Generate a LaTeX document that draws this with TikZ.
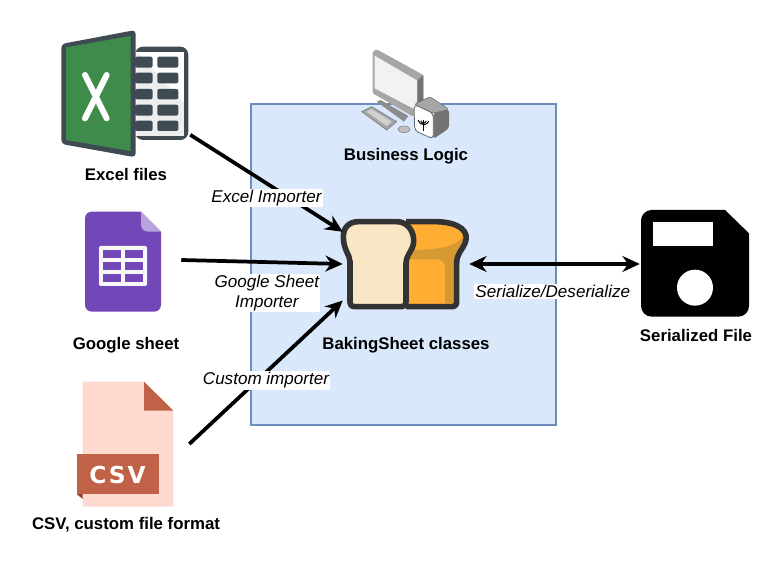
\documentclass[tikz,border=0pt]{standalone}
\usepackage{fontspec}
\setmainfont{Liberation Sans}
\newfontfamily\csvfont[LetterSpace=8]{DejaVu Sans}
\usetikzlibrary{arrows.meta}

\definecolor{boxfill}{HTML}{DAE8FC}
\definecolor{boxline}{HTML}{6C8EBF}
\definecolor{xlgreen}{HTML}{3F8B4B}
\definecolor{xldark}{HTML}{3F4B52}
\definecolor{sheetpurple}{HTML}{7248B9}
\definecolor{sheetfold}{HTML}{B9A3DD}
\definecolor{csvpage}{HTML}{FFD8CF}
\definecolor{csvred}{HTML}{BF6248}
\definecolor{csvshade}{HTML}{8F3F2B}
\definecolor{breadline}{HTML}{333333}
\definecolor{breadcream}{HTML}{F9E6C4}
\definecolor{breadorange}{HTML}{FFAD33}
\definecolor{breadshade}{HTML}{D69A33}

\tikzset{
  iconlabel/.style={font=\fontsize{12.6}{15}\selectfont\bfseries},
  edgelabel/.style={font=\fontsize{12.8}{15}\selectfont\itshape, fill=white,
    inner sep=1pt, align=center, text=black},
  iconspot/.style={inner sep=0pt, minimum width=#1},
  flow/.style={line width=2.8pt, -{Stealth[length=13pt,width=12pt]}},
  twoflow/.style={line width=2.8pt, {Stealth[length=13pt,width=12pt]}-{Stealth[length=13pt,width=12pt]}}
}

\begin{document}
\begin{tikzpicture}[x=0.75pt,y=-0.75pt]
  \useasboundingbox (0,0) rectangle (782,566);

  % business logic box
  \node[draw=boxline, fill=boxfill, line width=1.5pt, minimum width=228.75pt,
    minimum height=240.75pt, inner sep=0pt] (logicbox) at (403.5,264.5) {};

  % excel icon
  \begin{scope}[shift={(40,20)},scale=1/3]
    \fill[xldark, rounded corners=6pt] (285,80) rectangle (445,360);
    \fill[white] (285,95) rectangle (432,348);
    \fill[black!7] (290,95) -- (432,250) -- (432,348) -- (290,348) -- cycle;
    \foreach \rowtop/\rowbot in {110/143,158/190,207/238,254/287,302/333}{
      \fill[xldark, rounded corners=1.5pt] (285,\rowtop) rectangle (338,\rowbot);
      \fill[xldark, rounded corners=1.5pt] (352,\rowtop) rectangle (415,\rowbot);
    }
    \fill[xldark, rounded corners=3pt] (64,72) -- (287,30) -- (287,412) -- (64,372) -- cycle;
    \fill[xlgreen] (78,82) -- (272,48) -- (272,393) -- (78,360) -- cycle;
    \draw[white, line width=4.5pt, line cap=round] (135,165) -- (200,295) (200,165) -- (135,295);
  \end{scope}

  % google sheet icon
  \begin{scope}[shift={(70,200)},scale=1/3]
    \fill[sheetpurple, rounded corners=5pt] (45,35) -- (150,35) [sharp corners] -- (213,35) -- (273,95)
      [rounded corners=5pt] -- (273,335) -- (45,335) -- cycle;
    \fill[sheetfold] (213,35) -- (273,95) -- (235,95) .. controls (222,95) and (213,86) .. (213,73) -- cycle;
    \fill[white!97!black, rounded corners=1pt] (87,138) rectangle (231,258);
    \foreach \rowtop/\rowbot in {150/175,186/210,222/246}{
      \fill[sheetpurple] (98,\rowtop) rectangle (153,\rowbot);
      \fill[sheetpurple] (165,\rowtop) rectangle (219,\rowbot);
    }
  \end{scope}

  % csv icon
  \begin{scope}[shift={(70,370)},scale=1/3]
    \fill[csvpage] (38,35) -- (222,35) -- (310,122) -- (310,410) -- (38,410) -- cycle;
    \fill[csvred] (222,35) -- (310,122) -- (222,122) -- cycle;
    \fill[csvshade] (20,372) -- (38,372) -- (38,387) -- cycle;
    \fill[csvred] (20,253) rectangle (267,372);
  \end{scope}
  \node[inner sep=0pt, text=white, font=\csvfont\fontsize{17.5}{17.5}\selectfont\bfseries] (csvtext) at (117.5,475) {CSV};

  % computer icon
  \begin{scope}[shift={(330,40)},scale=1/3]
    \fill[black!45] (140,185) -- (152,180) -- (235,228) -- (222,245) -- cycle;
    \fill[black!35, draw=black!55, line width=.4pt] (95,215) -- (125,200) -- (200,245) -- (170,270) -- cycle;
    \fill[black!18] (110,215) -- (125,207) -- (185,245) -- (170,258) -- cycle;
    \fill[black!25, draw=black!50, line width=.4pt] (222,268) ellipse (18 and 10);
    \fill[black!35, rounded corners=1pt] (128,35) -- (140,28) -- (280,105) -- (280,195) -- (250,230) -- (128,160) -- cycle;
    \fill[white!95!black] (134,47) -- (262,122) -- (262,212) -- (134,145) -- cycle;
    \fill[black!55] (262,122) -- (280,105) -- (280,195) -- (262,212) -- cycle;
    \fill[black!35, draw=black!60, line width=.4pt, rounded corners=2pt] (252,193) -- (300,170) -- (357,208) -- (310,220) -- cycle;
    \fill[black!55, rounded corners=2pt] (310,220) -- (357,208) -- (357,265) -- (310,297) -- cycle;
    \fill[white, draw=black!60, line width=.6pt, rounded corners=3pt] (252,193) -- (310,220) -- (310,297) -- (254,272) -- cycle;
    \draw[black, line width=.9pt] (281,240) -- (281,272);
    \draw[black, line width=.7pt] (272,242) arc (170:20:9) (264,240) arc (170:25:17);
  \end{scope}

  % bread icon
  \begin{scope}[shift={(330,205)},scale=1/3]
    \fill[breadorange] (228,50) -- (320,50) .. controls (390,52) and (420,80) .. (405,115)
      .. controls (397,135) and (380,145) .. (380,175) -- (380,290) -- (365,305) -- (228,305) -- cycle;
    \fill[breadshade] (250,135) .. controls (320,135) and (380,125) .. (398,95)
      .. controls (405,120) and (380,145) .. (380,175) -- (380,295) -- (345,295) -- (345,190)
      .. controls (345,172) and (335,163) .. (320,163) -- (240,163) -- cycle;
    \draw[breadline, line width=4.2pt, line join=round]
      (228,50) -- (320,50) .. controls (390,52) and (420,80) .. (405,115)
      .. controls (397,135) and (380,145) .. (380,175) -- (380,290)
      .. controls (380,300) and (375,305) .. (365,305) -- (228,305);
    \draw[breadline, fill=breadcream, line width=4.2pt, line join=round]
      (85,50) -- (200,50) .. controls (245,50) and (258,100) .. (248,125)
      .. controls (240,145) and (228,155) .. (228,175) -- (228,290)
      .. controls (228,300) and (222,305) .. (212,305) -- (75,305)
      .. controls (65,305) and (60,300) .. (60,290) -- (60,170)
      .. controls (60,150) and (40,135) .. (40,95)
      .. controls (40,65) and (60,50) .. (85,50) -- cycle;
  \end{scope}

  % floppy icon
  \begin{scope}[shift={(630,200)},scale=1/3]
    \fill[black, rounded corners=8pt] (33,30) -- (200,30) [sharp corners] -- (285,30) -- (357,100)
      [rounded corners=8pt] -- (357,350) -- (33,350) -- cycle;
    \fill[white] (68,65) rectangle (248,137);
    \fill[white] (195,263) circle (54);
  \end{scope}

  % spots the connectors start and end on
  \node[iconspot=97.5pt, minimum height=96pt] (excel) at (125,94) {};
  \node[iconspot=87pt, minimum height=75pt] (google) at (123,260) {};
  \node[iconspot=91.5pt, minimum height=96pt] (csv) at (128,444) {};
  \node[iconspot=94.5pt, minimum height=67.5pt] (bread) at (406,264) {};
  \node[iconspot=84pt, minimum height=81pt] (floppy) at (696,264) {};

  \node[iconlabel] (excellabel) at (126,174.5) {Excel files};
  \node[iconlabel] (googlelabel) at (126,345.5) {Google sheet};
  \node[iconlabel] (csvlabel) at (126,525) {CSV, custom file format};
  \node[iconlabel] (logiclabel) at (406,156) {Business Logic};
  \node[iconlabel] (breadlabel) at (406,345) {BakingSheet classes};
  \node[iconlabel] (floppylabel) at (696,335) {Serialized File};

  \draw[flow] (excel.-32) -- node[edgelabel, pos=.5, yshift=-11pt] (excelimp) {Excel Importer} (bread.153);
  \draw[flow] (google.east) -- node[edgelabel, pos=.53, yshift=-23.2pt] (googleimp) {Google Sheet\\Importer} (bread.west);
  \draw[flow] (csv.east) -- node[edgelabel, pos=.5, yshift=-6pt] (customimp) {Custom importer} (bread.210);
  \draw[twoflow] (bread.east) -- node[edgelabel, pos=.49, yshift=-20.8pt] (serialize) {Serialize/Deserialize} (floppy.west);
\end{tikzpicture}
\end{document}
